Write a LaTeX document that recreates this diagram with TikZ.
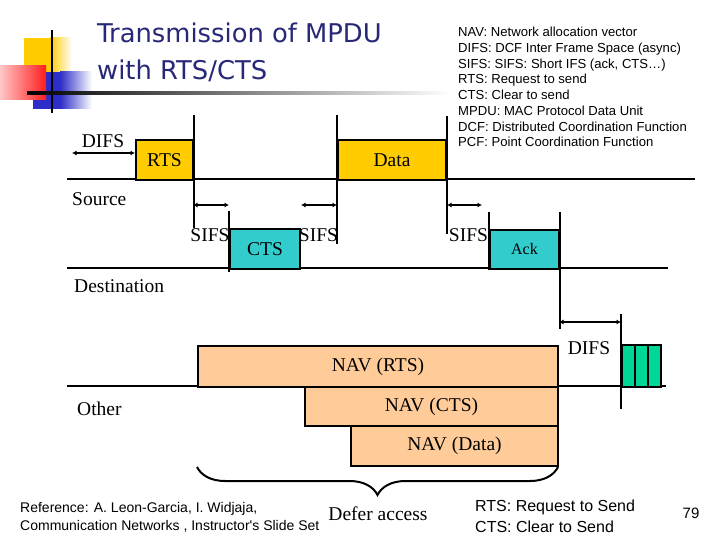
\documentclass[tikz,border=0pt]{standalone}
\usepackage{fontspec}
\setmainfont{Liberation Serif}
\newfontfamily\sansf{Liberation Sans}
\newfontfamily\titlef{DejaVu Sans}
\usetikzlibrary{arrows.meta,decorations.pathreplacing}
\definecolor{goldc}{RGB}{255,204,0}
\definecolor{cyanc}{RGB}{51,204,204}
\definecolor{peachc}{RGB}{255,204,153}
\definecolor{greenc}{RGB}{0,214,150}
\definecolor{titlec}{RGB}{40,40,120}
\definecolor{decoY}{RGB}{255,204,0}
\definecolor{decoB}{RGB}{45,45,200}
\definecolor{decoR}{RGB}{255,30,30}
\tikzset{
  axis/.style={line width=2pt},
  tick/.style={line width=2pt},
  dim/.style={line width=1.8pt,{Latex[length=4.5pt,width=5pt]}-{Latex[length=4.5pt,width=5pt]}},
  frame/.style={draw,line width=2pt,inner sep=0pt,anchor=north west,font=\fontsize{19.5}{22}\selectfont},
  goldbox/.style={frame,fill=goldc},
  cyanbox/.style={frame,fill=cyanc},
  navbox/.style={frame,fill=peachc},
  greenbox/.style={frame,fill=greenc,minimum width=13pt,minimum height=42pt},
  lbl/.style={inner sep=0pt,font=\fontsize{19.5}{22}\selectfont},
  legend/.style={inner sep=0pt,font=\sansf\fontsize{13.1}{15.75}\selectfont},
  foot/.style={inner sep=0pt,anchor=west,font=\sansf\fontsize{14}{16}\selectfont},
  footb/.style={inner sep=0pt,anchor=west,font=\sansf\fontsize{16}{18}\selectfont},
  titletext/.style={inner sep=0pt,text=titlec,font=\titlef\fontsize{25.8}{30}\selectfont,anchor=base west},
}
\begin{document}
\begin{tikzpicture}[x=1pt,y=-1pt]
\useasboundingbox (0,0) rectangle (720,540);
\fill[white] (0,0) rectangle (720,540);

% title decoration
\fill[decoY] (24,38) rectangle (50,72);
\shade[left color=decoY,right color=white] (50,38) rectangle (72,72);
\fill[decoB] (33,72) rectangle (60,109);
\shade[left color=decoB,right color=white] (60,72) rectangle (92,109);
\shade[left color=decoR!25!white,right color=decoR] (0,66) rectangle (46,100);
\draw[line width=2pt] (52,30) -- (52,113);
\shade[left color=black,right color=white] (27,92) rectangle (450,94.5);

% title
\node[titletext] (t1) at (97,43) {Transmission of MPDU};
\node[titletext] (t2) at (97,80) {with RTS/CTS};

% legend
\node[legend,anchor=north west,align=left] (leg) at (458,27) {NAV: Network allocation vector\\
DIFS: DCF Inter Frame Space (async)\\
SIFS: SIFS: Short IFS (ack, CTS\dots)\\
RTS: Request to send\\
CTS: Clear to send\\
MPDU: MAC Protocol Data Unit\\
DCF: Distributed Coordination Function\\
PCF: Point Coordination Function};

% time axes
\coordinate (s0) at (67,179); \coordinate (s1) at (695,179);
\coordinate (d0) at (67,268); \coordinate (d1) at (668,268);
\coordinate (o0) at (67,386); \coordinate (o1) at (666,386);
\draw[axis] (s0) -- (s1);
\draw[axis] (d0) -- (d1);
\draw[axis] (o0) -- (o1);

% frames
\node[goldbox,minimum width=57pt,minimum height=40pt] (rts) at (135,139) {RTS};
\node[goldbox,minimum width=108pt,minimum height=40pt] (data) at (337,139) {Data};
\node[cyanbox,minimum width=70pt,minimum height=40pt] (cts) at (229,228) {CTS};
\node[cyanbox,minimum width=69pt,minimum height=39pt,font=\fontsize{16}{18}\selectfont] (ack) at (489,229) {Ack};
\node[navbox,minimum width=360pt,minimum height=41pt] (navr) at (197,345) {NAV (RTS)};
\node[navbox,minimum width=253pt,minimum height=39pt] (navc) at (304,386) {NAV (CTS)};
\node[navbox,minimum width=207pt,minimum height=40pt] (navd) at (350,425) {NAV (Data)};
\node[greenbox] (g1) at (621,344) {};
\node[greenbox] (g2) at (634,344) {};
\node[greenbox] (g3) at (647,344) {};

% vertical markers
\draw[tick] ([yshift=24pt]rts.north east) -- ([yshift=-47pt]rts.south east);
\draw[tick] ([yshift=24pt]data.north west) -- ([yshift=-63pt]data.south west);
\draw[tick] ([yshift=23pt]data.north east) -- ([yshift=-53pt]data.south east);
\draw[tick] ([yshift=17pt]cts.north west) -- ([yshift=-2pt]cts.south west);
\draw[tick] ([yshift=17pt]ack.north west) -- (ack.south west);
\draw[tick] ([yshift=17pt]ack.north east) -- ([yshift=-59pt]ack.south east);
\draw[tick] ([yshift=30pt]g1.north west) -- ([yshift=-21pt]g1.south west);

% interval arrows
\coordinate (difsL) at (72,153);
\coordinate (sf) at (193,205);
\coordinate (sf3e) at (482,205);
\coordinate (df2) at (559,322);
\draw[dim] (difsL) -- (rts.west |- difsL);
\draw[dim] (sf) -- (cts.west |- sf);
\draw[dim] (cts.east |- sf) -- (data.west |- sf);
\draw[dim] (data.east |- sf) -- (sf3e);
\draw[dim] (df2) -- (g1.west |- df2);

% labels
\node[lbl] (difs1) at (103,141) {DIFS};
\node[lbl,anchor=west] (src) at (72,199) {Source};
\node[lbl] (sifs1) at (210,235) {SIFS};
\node[lbl] (sifs2) at (318.5,235) {SIFS};
\node[lbl] (sifs3) at (468.5,235) {SIFS};
\node[lbl,anchor=west] (dst) at (74,286) {Destination};
\node[lbl] (difs2) at (589,348) {DIFS};
\node[lbl,anchor=west] (oth) at (77,409) {Other};

% brace
\coordinate (brL) at (197,467); \coordinate (brR) at (558,467);
\draw[line width=2pt,decorate,decoration={brace,mirror,amplitude=28pt}] (brL) -- (brR);
\node[lbl] (defer) at (378,514) {Defer access};

% footer
\node[foot] (ref1) at (20,509) {Reference: A. Leon-Garcia, I. Widjaja,};
\node[foot] (ref2) at (20,526) {Communication Networks , Instructor's Slide Set};
\node[footb] (b1) at (475,507) {RTS: Request to Send};
\node[footb] (b2) at (475,527) {CTS: Clear to Send};
\node[inner sep=0pt,font=\sansf\fontsize{15}{17}\selectfont] (pg) at (691,513) {79};
\end{tikzpicture}
\end{document}
